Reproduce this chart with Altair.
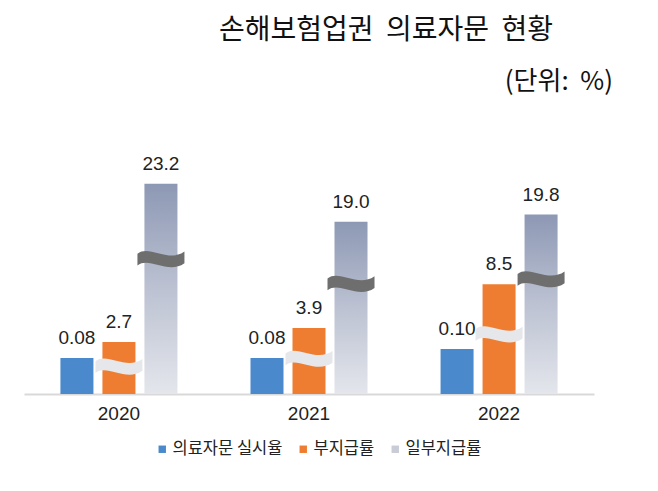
import altair as alt
import pandas as pd

years = ["2020", "2021", "2022"]
series = ["의료자문 실시율", "부지급률", "일부지급률"]
consult_rate = [0.08, 0.08, 0.10]
nonpay_rate = [2.7, 3.9, 8.5]
partial_rate = [23.2, 19.0, 19.8]

title_text = "손해보험업권\u00a0\u00a0의료자문\u00a0\u00a0현황"
unit_text = "(단위:\u00a0\u00a0%)"

rows = []
for i, y in enumerate(years):
    rows.append({"year": y, "series": series[0], "value": consult_rate[i], "label": f"{consult_rate[i]:.2f}"})
    rows.append({"year": y, "series": series[1], "value": nonpay_rate[i], "label": f"{nonpay_rate[i]:.1f}"})
    rows.append({"year": y, "series": series[2], "value": partial_rate[i], "label": f"{partial_rate[i]:.1f}"})
df = pd.DataFrame(rows)

BLUE = "#4a89cc"
ORANGE = "#ee7d31"
GREY_LEG = "#c9ccd6"
BREAK_PATH = "M -1 -0.15 C -0.5 -0.55 0.3 0.25 1 -0.25 L 1 0.25 C 0.3 0.75 -0.5 -0.05 -1 0.35 Z"

X = alt.X("year:N", sort=years,
          scale=alt.Scale(paddingInner=0.337, paddingOuter=0.168),
          axis=alt.Axis(title=None, labelAngle=0, ticks=False, grid=False,
                        domainColor="#d9d9d9", domainWidth=2,
                        labelFontSize=19, labelFont="Liberation Sans",
                        labelColor="#222222", labelPadding=10))
XO = alt.XOffset("series:N", sort=series,
                 scale=alt.Scale(domain=series, paddingInner=0.214, paddingOuter=0.107))
COLOR = alt.Color("series:N",
                  scale=alt.Scale(domain=series, range=[BLUE, ORANGE, GREY_LEG]),
                  legend=alt.Legend(orient="none", direction="horizontal", columns=3,
                                    legendX=130, legendY=413, title=None,
                                    symbolType="square", symbolSize=55,
                                    symbolStrokeWidth=0, gridAlign="none",
                                    labelFontSize=16.5, labelFont="Noto Sans CJK KR",
                                    labelColor="#222222", columnPadding=12,
                                    labelOffset=2))

base = alt.Chart(df)
TEXT_STYLE = dict(baseline="alphabetic", dy=-14, fontSize=19,
                  font="Liberation Sans", color="#222222")

# Series 1: 의료자문 실시율
y1 = alt.Y("value:Q", scale=alt.Scale(domain=[0, 0.813]), axis=None)
s1 = base.transform_filter(alt.datum.series == series[0])
layer1 = alt.layer(
    s1.mark_bar().encode(x=X, xOffset=XO, y=y1, color=COLOR),
    s1.mark_text(**TEXT_STYLE).encode(x=X, xOffset=XO, y=y1, text="label:N"),
)

# Series 2: 부지급률 (broken scale)
sc2 = alt.Scale(type="pow", exponent=0.65, domain=[0, 54.3])
y2 = alt.Y("value:Q", scale=sc2, axis=None)
y2b = alt.Y("brk:Q", scale=sc2, axis=None)
s2 = base.transform_filter(alt.datum.series == series[1])
layer2 = alt.layer(
    s2.mark_bar().encode(x=X, xOffset=XO, y=y2, color=COLOR),
    s2.transform_calculate(brk="datum.value * 0.41").mark_point(
        shape=BREAK_PATH, size=2209, filled=True, fill="#e6e7ea", opacity=1, strokeWidth=0
    ).encode(x=X, xOffset=XO, y=y2b),
    s2.mark_text(**TEXT_STYLE).encode(x=X, xOffset=XO, y=y2, text="label:N"),
)

# Series 3: 일부지급률 (broken scale)
sc3 = alt.Scale(domain=[0, 40.4])
y3 = alt.Y("value:Q", scale=sc3, axis=None)
y3b = alt.Y("brk:Q", scale=sc3, axis=None)
s3 = base.transform_filter(alt.datum.series == series[2])
grad = alt.LinearGradient(gradient="linear", x1=0, y1=0, x2=0, y2=1,
                          stops=[alt.GradientStop(color="#8d98b4", offset=0),
                                 alt.GradientStop(color="#bcc2d2", offset=0.5),
                                 alt.GradientStop(color="#e4e6ec", offset=1)])
layer3 = alt.layer(
    s3.mark_bar(color=grad).encode(x=X, xOffset=XO, y=y3),
    s3.transform_calculate(brk="datum.value * 0.65").mark_point(
        shape=BREAK_PATH, size=2209, filled=True, fill="#6e6e6e", opacity=1, strokeWidth=0
    ).encode(x=X, xOffset=XO, y=y3b),
    s3.mark_text(**TEXT_STYLE).encode(x=X, xOffset=XO, y=y3, text="label:N"),
)

titles_df = pd.DataFrame({"t": [title_text]})
units_df = pd.DataFrame({"t": [unit_text]})
title_layer = alt.Chart(titles_df).mark_text(
    fontSize=28, font="Noto Sans CJK KR", color="#111111", align="center", baseline="middle"
).encode(x=alt.value(362), y=alt.value(3), text="t:N")
unit_layer = alt.Chart(units_df).mark_text(
    fontSize=26, font="Noto Sans CJK KR", color="#111111", align="right", baseline="middle"
).encode(x=alt.value(589), y=alt.value(54), text="t:N")

chart = alt.layer(layer1, layer2, layer3, title_layer, unit_layer).resolve_scale(
    y="independent"
).properties(
    width=570, height=366,
    background="white",
    autosize=alt.AutoSizeParams(type="none"),
    padding={"left": 16, "top": 20, "right": 40, "bottom": 89},
).configure_view(strokeWidth=0, stroke="transparent")

chart.save("out.html", embed_options={"renderer": "svg", "actions": False})
